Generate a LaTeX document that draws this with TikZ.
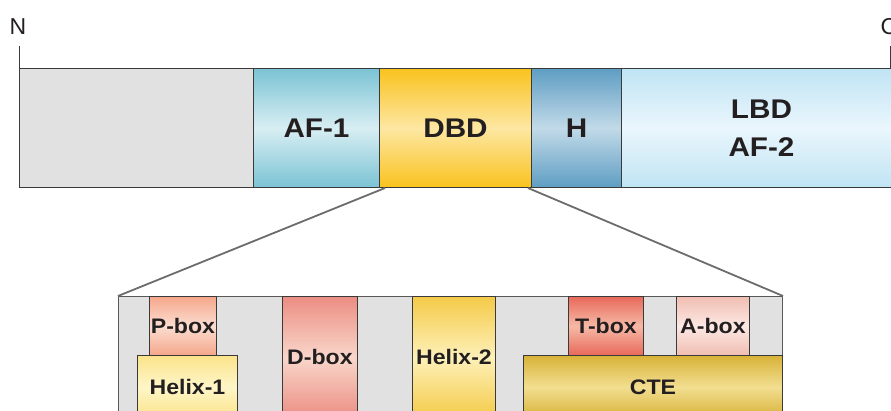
\documentclass[tikz,border=0pt]{standalone}
\usepackage{fontspec}
\setmainfont{Liberation Sans}
\newfontfamily\widesans[FakeStretch=1.1]{Liberation Sans}
\definecolor{txt}{HTML}{231F20}
\definecolor{edgec}{HTML}{3A3A3A}
\definecolor{grayfill}{HTML}{E1E1E1}
\definecolor{afA}{HTML}{7BC3D4}\definecolor{afB}{HTML}{D8EEF3}
\definecolor{dbdA}{HTML}{F9C21E}\definecolor{dbdB}{HTML}{FDE7A2}
\definecolor{hA}{HTML}{5E9DC3}\definecolor{hB}{HTML}{C2DAE8}
\definecolor{lbdA}{HTML}{C0E4F4}\definecolor{lbdB}{HTML}{EAF6FC}
\definecolor{pA}{HTML}{F5A68A}\definecolor{pB}{HTML}{FBDDD0}
\definecolor{dA}{HTML}{EC8D82}\definecolor{dB}{HTML}{F9D6CA}
\definecolor{h2A}{HTML}{F4CA48}\definecolor{h2B}{HTML}{FDF0B8}
\definecolor{h1A}{HTML}{FBE38A}\definecolor{h1B}{HTML}{FEF6C8}
\definecolor{tA}{HTML}{E8695A}\definecolor{tB}{HTML}{F6B9A6}
\definecolor{aA}{HTML}{F0BDB2}\definecolor{aB}{HTML}{FCE8E3}
\definecolor{cA}{HTML}{D8B238}\definecolor{cB}{HTML}{F2DE90}
\tikzset{
  seg/.style={draw=edgec, line width=1pt, inner sep=0pt, anchor=north west,
    font=\widesans\bfseries\fontsize{27}{38}\selectfont, text=txt, align=center},
  sub/.style={draw=edgec, line width=0.9pt, inner sep=0pt, anchor=north west,
    font=\widesans\bfseries\fontsize{21}{24}\selectfont, text=txt},
  grad/.style 2 args={top color=#1, bottom color=#1, middle color=#2},
  zoomline/.style={draw=gray!85!black, line width=1.8pt},
  tick/.style={draw=edgec, line width=1pt},
  term/.style={font=\fontsize{23}{26}\selectfont, text=txt}
}
\begin{document}
\begin{tikzpicture}[x=1pt,y=-1pt]
\useasboundingbox (0,0) rectangle (891,410);
\clip (0,0) rectangle (891,410);
% top bar
\node[seg, fill=grayfill, minimum width=234, minimum height=119] (nterm) at (19,68) {};
\node[seg, grad={afA}{afB}, minimum width=126, minimum height=119] (af1) at (253,68) {AF-1};
\node[seg, grad={dbdA}{dbdB}, minimum width=152, minimum height=119] (dbd) at (379,68) {DBD};
\node[seg, grad={hA}{hB}, minimum width=90, minimum height=119] (hinge) at (531,68) {H};
\node[seg, grad={lbdA}{lbdB}, minimum width=280, minimum height=119] (lbd) at (621,68) {LBD\\AF-2};
% termini
\node[term] (N) at (18,27) {N};
\node[term] (C) at (889,27) {C};
\coordinate (ntop) at (19,46);
\coordinate (ctop) at (890,46);
\coordinate (cbar) at (890,68);
\draw[tick] (ntop) -- (nterm.north west);
\draw[tick] (ctop) -- (cbar);
% zoom frame and lines
\node[draw=gray!70!black, line width=1pt, fill=grayfill, inner sep=0pt, anchor=north west,
  minimum width=664, minimum height=130] (inner) at (118,296) {};
\draw[zoomline] ([xshift=6]dbd.south west) -- (inner.north west);
\draw[zoomline] ([xshift=-4]dbd.south east) -- (inner.north east);
% DBD detail
\node[sub, grad={pA}{pB}, minimum width=67, minimum height=59] (pbox) at (149,296) {P-box};
\node[sub, grad={h1A}{h1B}, minimum width=100, minimum height=63] (helix1) at (137,355) {Helix-1};
\node[sub, grad={dA}{dB}, minimum width=75, minimum height=122] (dbox) at (282,296) {D-box};
\node[sub, grad={h2A}{h2B}, minimum width=83, minimum height=122] (helix2) at (412,296) {Helix-2};
\node[sub, grad={tA}{tB}, minimum width=75, minimum height=59] (tbox) at (568,296) {T-box};
\node[sub, grad={aA}{aB}, minimum width=73, minimum height=59] (abox) at (676,296) {A-box};
\node[sub, grad={cA}{cB}, minimum width=259, minimum height=63] (cte) at (523,355) {CTE};
\end{tikzpicture}
\end{document}
